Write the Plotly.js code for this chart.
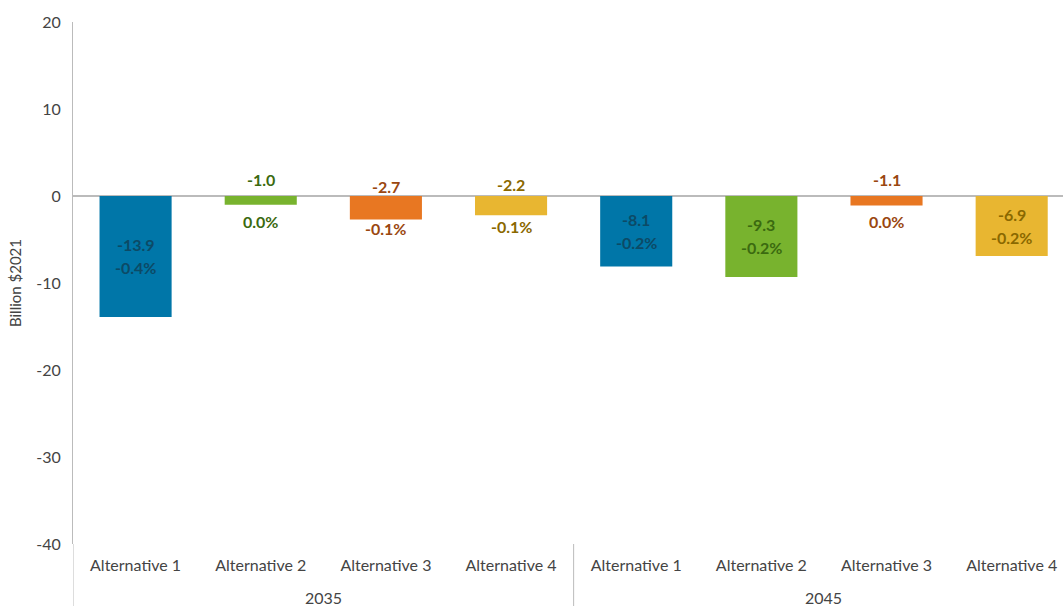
<!DOCTYPE html>
<html>
<head>
<meta charset="utf-8">
<script src="https://cdn.plot.ly/plotly-3.0.1.min.js"></script>
<style>html,body{margin:0;padding:0;background:#fff;}#chart{width:1063px;height:606px;}</style>
</head>
<body>
<div id="chart"></div>
<script>
const years = ["2035","2035","2035","2035","2045","2045","2045","2045"];
const alternatives = ["Alternative 1","Alternative 2","Alternative 3","Alternative 4","Alternative 1","Alternative 2","Alternative 3","Alternative 4"];
const values = [-13.9, -1.0, -2.7, -2.2, -8.1, -9.3, -1.1, -6.9];
const percents = ["-0.4%","0.0%","-0.1%","-0.1%","-0.2%","-0.2%","0.0%","-0.2%"];
const yTicks = [20, 10, 0, -10, -20, -30, -40];

const barColors = {"Alternative 1":"#0076a8","Alternative 2":"#78b32e","Alternative 3":"#e87722","Alternative 4":"#e8b631"};
const labelColors = {"Alternative 1":"#0c4a66","Alternative 2":"#3b6a10","Alternative 3":"#9a4710","Alternative 4":"#8a6800"};

const FONT = "Lato, 'Noto Sans', sans-serif";
const cats = years.map((y, i) => y + ' ' + alternatives[i]);

const annotations = [];
const shapes = [];
values.forEach((v, i) => {
  const c = labelColors[alternatives[i]];
  const f = {family: FONT, size: 16, color: c};
  // labels are centred on the bar; small bars get a blank middle line
  const gap = Math.abs(v) > 5 ? 11.5 : 21;
  annotations.push({x: cats[i], y: v / 2, xref: 'x', yref: 'y', text: '<b>' + v.toFixed(1) + '</b>',
    showarrow: false, font: f, xanchor: 'center', yanchor: 'middle', yshift: gap});
  annotations.push({x: cats[i], y: v / 2, xref: 'x', yref: 'y', text: '<b>' + percents[i] + '</b>',
    showarrow: false, font: f, xanchor: 'center', yanchor: 'middle', yshift: -gap});
});

// group labels and dividers
const groups = [...new Set(years)];
groups.forEach(g => {
  const idx = years.map((y, i) => y === g ? i : -1).filter(i => i >= 0);
  const first = idx[0], last = idx[idx.length - 1];
  annotations.push({x: (first + last) / 2, y: 0, xref: 'x', yref: 'paper', text: g, showarrow: false,
    font: {family: FONT, size: 16, color: '#444'}, xanchor: 'center', yanchor: 'middle', yshift: -53});
  shapes.push({type: 'line', xref: 'x', yref: 'paper', x0: first - 0.5, x1: first - 0.5, y0: 0, y1: -0.12,
    line: {color: '#bbb', width: 1}});
});

const trace = {
  type: 'bar',
  x: cats,
  y: values,
  marker: {color: alternatives.map(a => barColors[a])},
  width: 0.576,
  hoverinfo: 'none'
};

const layout = {
  width: 1063, height: 606,
  margin: {l: 73, r: 0, t: 22, b: 62},
  paper_bgcolor: '#fff', plot_bgcolor: '#fff',
  showlegend: false,
  font: {family: FONT, size: 16, color: '#444'},
  xaxis: {
    type: 'category',
    range: [-0.5, 7.41],
    tickvals: cats, ticktext: alternatives,
    showline: false, ticks: '', showgrid: false,
    ticklabelstandoff: 10,
    tickfont: {family: FONT, size: 16, color: '#444'}
  },
  yaxis: {
    range: [-40, 20], tickvals: yTicks, ticktext: yTicks.map(String), ticks: '', showgrid: false,
    showline: true, linecolor: '#bbb', linewidth: 1,
    zeroline: true, zerolinecolor: '#bbb', zerolinewidth: 2,
    ticklabelstandoff: 8,
    tickfont: {family: FONT, size: 16, color: '#444'},
    title: {text: 'Billion $2021', font: {family: FONT, size: 15, color: '#444'}, standoff: 11}
  },
  annotations: annotations,
  shapes: shapes
};

Plotly.newPlot('chart', [trace], layout, {displayModeBar: false, staticPlot: true});
</script>
</body>
</html>
